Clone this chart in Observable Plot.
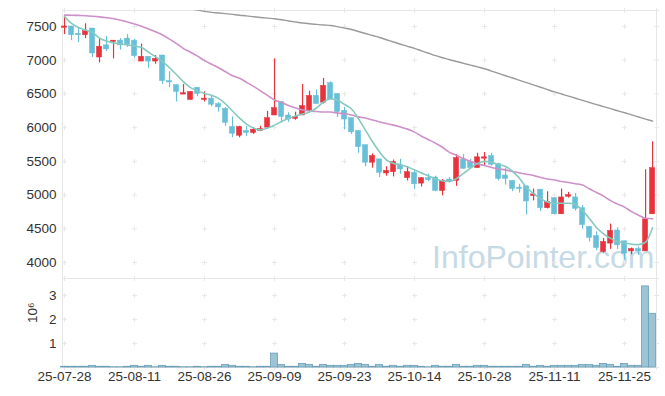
<!DOCTYPE html>
<html><head><meta charset="utf-8">
<script src="https://cdn.jsdelivr.net/npm/d3@7"></script>
<script src="https://cdn.jsdelivr.net/npm/@observablehq/plot@0.6"></script>
<style>body{margin:0;background:#fff} #chart svg{display:block}</style>
</head><body><div id="chart"></div>
<script>
const dates = ["25-07-28","25-07-29","25-07-30","25-07-31","25-08-01","25-08-04","25-08-05","25-08-06","25-08-07","25-08-08",
"25-08-11","25-08-12","25-08-13","25-08-14","25-08-18","25-08-19","25-08-20","25-08-21","25-08-22","25-08-25",
"25-08-26","25-08-27","25-08-28","25-08-29","25-09-01","25-09-02","25-09-03","25-09-04","25-09-05","25-09-08",
"25-09-09","25-09-10","25-09-11","25-09-12","25-09-15","25-09-16","25-09-17","25-09-18","25-09-19","25-09-22",
"25-09-23","25-09-24","25-09-25","25-09-26","25-09-29","25-09-30","25-10-01","25-10-02","25-10-10","25-10-13",
"25-10-14","25-10-15","25-10-16","25-10-17","25-10-20","25-10-21","25-10-22","25-10-23","25-10-24","25-10-27",
"25-10-28","25-10-29","25-10-30","25-10-31","25-11-03","25-11-04","25-11-05","25-11-06","25-11-07","25-11-10",
"25-11-11","25-11-12","25-11-13","25-11-14","25-11-17","25-11-18","25-11-19","25-11-20","25-11-21","25-11-24",
"25-11-25","25-11-26","25-11-27","25-11-28","25-12-01"];

const open = [7480,7500,7390,7370,7470,7040,7220,7270,7290,7320,
7290,6980,7050,6980,7070,6690,6630,6490,6410,6590,
6410,6430,6350,6280,6010,5880,5950,5920,5950,6000,
6180,6380,6180,6130,6180,6250,6470,6370,6660,6500,
6250,6140,5950,5740,5480,5530,5320,5340,5440,5250,
5330,5170,5250,5260,5060,5230,5210,5530,5490,5400,
5540,5580,5460,5290,5210,5110,5130,4985,5080,4805,
4955,4715,4975,4965,4805,4530,4390,4155,4280,4475,
4315,4165,4200,4165,4715];
const high = [7650,7500,7480,7540,7470,7310,7350,7290,7320,7380,
7310,7240,7050,7070,7070,6830,6630,6640,6530,6590,
6530,6470,6370,6300,6160,6020,6020,6000,6020,6240,
7020,6380,6220,6230,6640,6540,6560,6730,6680,6500,
6300,6140,5950,5740,5610,5530,5420,5520,5530,5420,
5360,5260,5310,5280,5230,5260,5600,5600,5530,5620,
5630,5620,5470,5400,5210,5160,5130,5090,5080,5050,
4955,5090,5040,5025,4845,4530,4455,4355,4570,4515,
4315,4215,4230,5375,5790];
const low = [7380,7290,7260,7320,7040,6960,7130,7020,7150,7190,
7030,6980,6880,6940,6640,6590,6380,6490,6410,6460,
6380,6310,6230,6020,5850,5850,5870,5900,5940,5980,
6180,6070,6080,6110,6180,6230,6350,6350,6420,6150,
5970,5900,5620,5420,5400,5260,5280,5270,5310,5210,
5080,5120,5200,5050,4990,5180,5130,5380,5390,5400,
5440,5430,5210,5150,5050,5030,4705,4915,4755,4795,
4705,4715,4955,4765,4495,4305,4175,4140,4195,4195,
4035,4115,4105,4165,4715];
const close = [7500,7370,7370,7430,7100,7200,7160,7290,7220,7230,
7060,7050,6980,7020,6690,6670,6530,6510,6530,6500,
6430,6340,6300,6070,5910,6010,5920,5970,5980,6140,
6290,6160,6120,6160,6320,6470,6350,6620,6420,6230,
6120,5930,5710,5480,5580,5330,5360,5490,5380,5340,
5160,5250,5220,5060,5210,5200,5550,5390,5400,5560,
5560,5450,5240,5240,5090,5090,4905,5010,4805,4895,
4715,4965,5000,4795,4555,4365,4215,4305,4470,4255,
4130,4200,4165,4640,5400];
const volume = [30000,30000,30000,30000,70000,30000,30000,10000,10000,30000,
70000,30000,70000,10000,70000,30000,30000,10000,10000,30000,
10000,30000,30000,110000,70000,30000,30000,10000,30000,30000,
580000,110000,30000,30000,150000,110000,30000,110000,70000,70000,
70000,110000,150000,110000,30000,110000,30000,70000,30000,70000,
70000,30000,10000,70000,30000,30000,110000,30000,30000,70000,
70000,30000,30000,30000,30000,30000,110000,30000,70000,30000,
70000,70000,70000,70000,110000,110000,70000,150000,110000,30000,
150000,70000,70000,3380000,2240000];
const ma5 = [7649,7545,7485,7448,7410,7328,7284,7257,7242,7227,
7212,7187,7119,7052,6978,6888,6784,6679,6594,6545,
6507,6478,6433,6351,6246,6142,6052,5993,5967,5993,
6037,6090,6134,6172,6202,6231,6291,6381,6425,6410,
6343,6276,6130,5960,5790,5640,5520,5470,5451,5418,
5373,5328,5284,5239,5209,5202,5246,5321,5400,5470,
5500,5485,5455,5425,5351,5246,5112,5022,4948,4896,
4878,4878,4878,4858,4769,4649,4515,4425,4358,4313,
4291,4272,4266,4300,4515];
const ma20 = [7669,7667,7664,7660,7652,7642,7630,7615,7593,7567,
7537,7503,7463,7421,7373,7313,7246,7172,7119,7060,
6993,6940,6888,6828,6769,6731,6672,6612,6545,6478,
6410,6373,6328,6291,6261,6246,6239,6231,6231,6216,
6206,6187,6160,6142,6112,6085,6060,6037,6008,5978,
5933,5873,5821,5769,5709,5634,5590,5540,5500,5460,
5440,5410,5388,5373,5351,5328,5310,5291,5261,5239,
5224,5201,5187,5169,5149,5090,5037,4985,4918,4866,
4821,4754,4702,4657,4650];
const ma60 = [null,null,null,null,null,null,null,null,null,null,
null,null,null,null,null,null,null,null,7760,7743,
7724,7709,7700,7690,7679,7667,7657,7645,7634,7624,
7615,7600,7582,7566,7551,7540,7531,7522,7515,7497,
7476,7455,7425,7396,7366,7336,7303,7270,7237,7206,
7175,7139,7103,7067,7037,7007,6981,6954,6927,6900,
6873,6839,6805,6770,6736,6701,6667,6633,6599,6564,
6530,6499,6467,6436,6404,6373,6342,6312,6281,6251,
6221,6189,6158,6127,6097];

const priceTicks = [4000,4500,5000,5500,6000,6500,7000,7500];
const volumeTicks = [1,2,3];
const tickLabels = ["25-07-28","25-08-11","25-08-26","25-09-09","25-09-23","25-10-14","25-10-28","25-11-11","25-11-25"];
const watermark = "InfoPointer.com";

const UP = "#e8323c", DOWN = "#68bfd8";
const rows = dates.map((d, i) => ({i, date: d, open: open[i], high: high[i], low: low[i], close: close[i],
  vol: volume[i], ma5: ma5[i], ma20: ma20[i], ma60: ma60[i]}));
const tickIdx = tickLabels.map(t => dates.indexOf(t));

const xDomain = [-0.29, 84.56];
const pDomain = [3763, 7737];
const vDomain = [0, 3.71];
const FONT = "Liberation Sans";

const plus = {draw(ctx, size) { const r = Math.sqrt(size / Math.PI); ctx.moveTo(-r, 0); ctx.lineTo(r, 0); ctx.moveTo(0, -r); ctx.lineTo(0, r); }};
function crosses(yt, yd) {
  const xs = [...tickIdx, xDomain[1]], ys = [...yt, ...yd], out = [];
  for (const x of xs) for (const y of ys) out.push({x, y});
  return out;
}

const common = {width: 665, marginLeft: 62, marginRight: 9,
  x: {domain: xDomain, axis: null},
  style: {fontFamily: FONT, fontSize: "13.5px", color: "#333", background: "transparent", overflow: "visible"}};

const pricePlot = Plot.plot({
  ...common, height: 278, marginTop: 10, marginBottom: 0,
  y: {domain: pDomain},
  marks: [
    Plot.text([watermark], {x: 52.5, y: 3925, text: d => d, textAnchor: "start", lineAnchor: "bottom",
      fontSize: 32, fill: "#c6dae5", fontFamily: FONT}),
    Plot.dot(crosses(priceTicks, pDomain), {x: "x", y: "y", symbol: plus, r: 2.5, stroke: "#e8e8e8", strokeWidth: 1}),
    Plot.frame({stroke: "#e6e6e6"}),
    Plot.axisY(priceTicks, {tickSize: 0, tickPadding: 6, label: null, tickFormat: d3.format("d"), fontSize: 13.5}),
    Plot.ruleX(rows, {x: "i", y1: "low", y2: "high", stroke: d => d.close >= d.open ? UP : DOWN, strokeWidth: 1.2}),
    Plot.rect(rows, {x1: d => d.i - 0.37, x2: d => d.i + 0.37, y1: "open", y2: "close",
      fill: d => d.close >= d.open ? UP : DOWN, stroke: d => d.close >= d.open ? UP : DOWN, strokeWidth: 0.5}),
    Plot.line(rows, {x: "i", y: "ma60", stroke: "#9a9a9a", strokeWidth: 1.4, curve: "monotone-x", clip: true}),
    Plot.line(rows, {x: "i", y: "ma20", stroke: "#cd90c8", strokeWidth: 1.6, curve: "monotone-x"}),
    Plot.line(rows, {x: "i", y: "ma5", stroke: "#86c9c0", strokeWidth: 1.6, curve: "monotone-x"})
  ]
});

const volPlot = Plot.plot({
  ...common, height: 118, marginTop: 0, marginBottom: 29,
  y: {domain: vDomain},
  marks: [
    Plot.dot(crosses(volumeTicks, vDomain), {x: "x", y: "y", symbol: plus, r: 2.5, stroke: "#e8e8e8", strokeWidth: 1}),
    Plot.frame({stroke: "#e6e6e6"}),
    Plot.axisY(volumeTicks, {tickSize: 0, tickPadding: 6, label: null, fontSize: 13.5}),
    Plot.axisX(tickIdx, {tickSize: 0, tickPadding: 4, tickFormat: i => dates[i], label: null, fontSize: 13.5}),
    Plot.text(["10⁶"], {frameAnchor: "left", dx: -30, rotate: -90, text: d => d, fontSize: 13.5, fill: "#333"}),
    Plot.rect(rows, {x1: d => d.i - 0.5, x2: d => d.i + 0.5, y1: 0, y2: d => d.vol / 1e6,
      fill: "#9dc4d5", stroke: "#6a9fba", strokeWidth: 0.8})
  ]
});

document.getElementById("chart").append(pricePlot, volPlot);
</script></body></html>
